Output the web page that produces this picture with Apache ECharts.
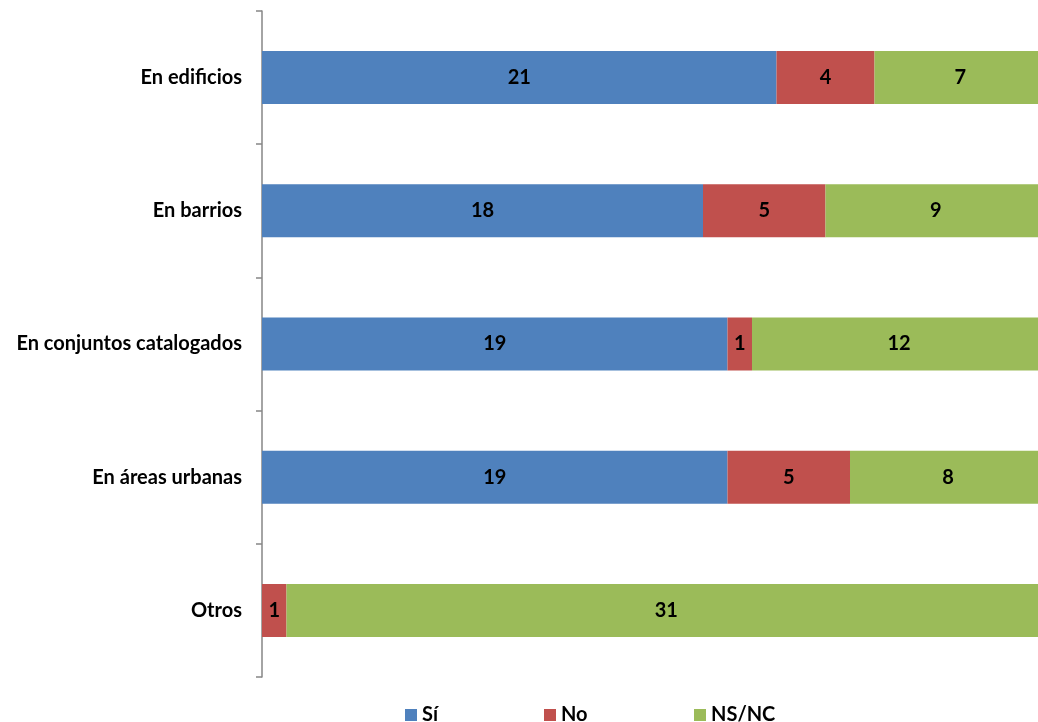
<!DOCTYPE html>
<html><head><meta charset="utf-8">
<script src="https://cdn.jsdelivr.net/npm/echarts@6/dist/echarts.min.js"></script>
<style>html,body{margin:0;padding:0;background:#fff}#c{width:1038px;height:722px}</style>
</head><body><div id="c"></div>
<script>
const categories = ["En edificios", "En barrios", "En conjuntos catalogados", "En áreas urbanas", "Otros"];
const seriesNames = ["Sí", "No", "NS/NC"];
const si = [21, 18, 19, 19, 0];
const no = [4, 5, 1, 5, 1];
const nsnc = [7, 9, 12, 8, 31];
const colors = ["#4F81BD", "#C0504D", "#9BBB59"];
const font = "Lato";
const chart = echarts.init(document.getElementById('c'), null, {renderer: 'canvas'});
const mk = (name, data, color) => ({
  name, type: 'bar', stack: 'total', data, barWidth: 53, clip: false,
  itemStyle: {color},
  label: {show: true, position: 'inside', color: '#000', fontWeight: 'bold', fontSize: 20, fontFamily: font,
    formatter: p => p.value ? String(p.value) : ''},
  emphasis: {disabled: true}
});
const legendStyle = (name, left) => ({
  top: 700, left, itemWidth: 12, itemHeight: 12, icon: 'rect',
  textStyle: {color: '#000', fontWeight: 'bold', fontSize: 20, fontFamily: font},
  data: [name]
});
chart.setOption({
  animation: false,
  textStyle: {fontFamily: font},
  grid: {left: 262, top: 11, right: 0, height: 666, containLabel: false},
  xAxis: {type: 'value', min: 0, max: 776 / 24.5, show: false},
  yAxis: {type: 'category', data: categories, inverse: true,
    axisLine: {show: true, lineStyle: {color: '#868686', width: 1.5}},
    axisTick: {show: true, length: 6, lineStyle: {color: '#868686', width: 1.5}},
    axisLabel: {color: '#000', fontWeight: 'bold', fontSize: 20, fontFamily: font, margin: 20},
    splitLine: {show: false}},
  legend: [legendStyle(seriesNames[0], 400), legendStyle(seriesNames[1], 539), legendStyle(seriesNames[2], 689)],
  series: [mk(seriesNames[0], si, colors[0]), mk(seriesNames[1], no, colors[1]), mk(seriesNames[2], nsnc, colors[2])]
});
</script></body></html>
